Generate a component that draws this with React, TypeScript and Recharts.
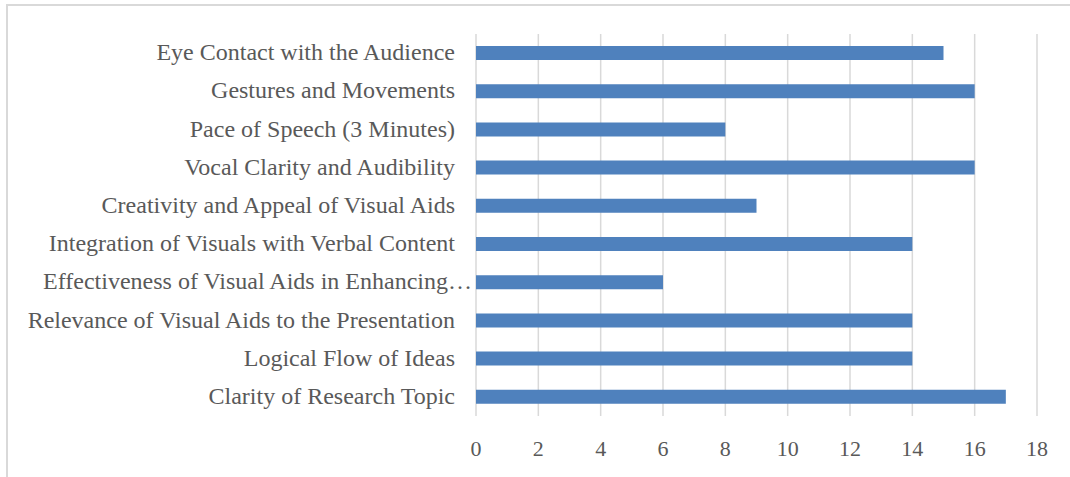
import { BarChart, Bar, XAxis, YAxis, CartesianGrid } from "recharts";

// categories top-to-bottom as they appear in the chart
const CATEGORIES = [
  "Eye Contact with the Audience",
  "Gestures and Movements",
  "Pace of Speech (3 Minutes)",
  "Vocal Clarity and Audibility",
  "Creativity and Appeal of Visual Aids",
  "Integration of Visuals with Verbal Content",
  "Effectiveness of Visual Aids in Enhancing…",
  "Relevance of Visual Aids to the Presentation",
  "Logical Flow of Ideas",
  "Clarity of Research Topic",
];
const SCORES = [15, 16, 8, 16, 9, 14, 6, 14, 14, 17];
const X_TICKS = [0, 2, 4, 6, 8, 10, 12, 14, 16, 18];

const BAR_COLOR = "#4F81BD";
const TEXT_COLOR = "#595959";
const GRID_COLOR = "#d9d9d9";
const FONT = '"Liberation Serif", "Times New Roman", serif';

const data = CATEGORIES.map((name, i) => ({ name, value: SCORES[i] }));

function CategoryTick(props: any) {
  const { x, y, payload } = props;
  const truncated = String(payload.value).endsWith("…");
  return (
    <text
      x={truncated ? x + 23 : x + 6}
      y={y}
      dy={7}
      textAnchor="end"
      fill={TEXT_COLOR}
      fontSize={24}
      fontFamily={FONT}
    >
      {payload.value}
    </text>
  );
}

export default function App() {
  return (
    <div style={{ position: "absolute", left: 0, top: 0, width: 1070, height: 477, background: "#fff", overflow: "hidden" }}>
      {/* chart frame (only top/left edges visible) */}
      <div
        style={{
          position: "absolute",
          left: 6,
          top: 4,
          width: 1100,
          height: 500,
          borderTop: `2px solid ${GRID_COLOR}`,
          borderLeft: `2px solid ${GRID_COLOR}`,
        }}
      />
      <div style={{ position: "absolute", left: 0, top: 0 }}>
        <BarChart
          width={1070}
          height={477}
          data={data}
          layout="vertical"
          margin={{ top: 34, right: 33, left: 0, bottom: 21 }}
        >
          <CartesianGrid horizontal={false} stroke={GRID_COLOR} strokeWidth={1.5} />
          <XAxis
            type="number"
            domain={[0, 18]}
            ticks={X_TICKS}
            axisLine={false}
            tickLine={false}
            height={40}
            tick={{ fontSize: 22, fill: TEXT_COLOR, fontFamily: FONT, dy: 16 }}
          />
          <YAxis
            type="category"
            dataKey="name"
            width={476}
            axisLine={false}
            tickLine={false}
            tickMargin={21}
            interval={0}
            tick={<CategoryTick />}
          />
          <Bar dataKey="value" fill={BAR_COLOR} barSize={14} isAnimationActive={false} />
        </BarChart>
      </div>
    </div>
  );
}
